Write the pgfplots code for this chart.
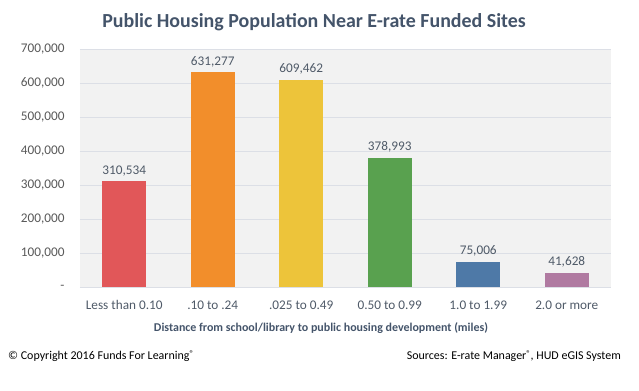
\documentclass[border=0pt]{standalone}
\usepackage{fontspec}
\setmainfont{Carlito}
\usepackage{pgfplots}
\pgfplotsset{compat=1.18}
\definecolor{bgc}{HTML}{F2F2F2}
\definecolor{gridc}{HTML}{DCDFE6}
\definecolor{titlec}{HTML}{44546A}
\definecolor{txtc}{HTML}{4F5A68}
\definecolor{tickc}{HTML}{595959}
\definecolor{c1}{HTML}{E15759}
\definecolor{c2}{HTML}{F28E2B}
\definecolor{c3}{HTML}{EDC43A}
\definecolor{c4}{HTML}{59A14F}
\definecolor{c5}{HTML}{4E79A7}
\definecolor{c6}{HTML}{B07AA1}
\newcommand{\reg}{\raisebox{3.5bp}{\fontsize{8.5}{9}\selectfont ®}}
\begin{document}
\begin{tikzpicture}
\begin{axis}[name=ax, scale only axis,
  width=531bp, height=238bp,
  ymin=0, ymax=700000, xmin=-0.5, xmax=5.5,
  ybar, bar width=44bp, bar shift=0pt,
  axis background/.style={fill=bgc},
  axis line style={draw=none},
  tick style={draw=none},
  ymajorgrids, grid style={gridc, line width=0.8bp},
  scaled y ticks=false,
  ytick={0,100000,200000,300000,400000,500000,600000,700000},
  yticklabels={{-},{100,000},{200,000},{300,000},{400,000},{500,000},{600,000},{700,000}},
  yticklabel style={font=\fontsize{13.3}{15}\selectfont, text=tickc, xshift=-12bp},
  xtick={0,1,2,3,4,5},
  xticklabels={Less than 0.10,.10 to .24,.025 to 0.49,0.50 to 0.99,1.0 to 1.99,2.0 or more},
  xticklabel style={font=\fontsize{13.3}{15}\selectfont, text=txtc, yshift=-6bp},
  /pgf/number format/assume math mode=true,
  /pgf/number format/1000 sep={,},
  /pgf/number format/fixed,
  nodes near coords,
  nodes near coords style={font=\fontsize{13.3}{15}\selectfont, text=txtc, yshift=2bp},
  clip=false,
]
\addplot[fill=c1, draw=none] coordinates {(0,310534)};
\addplot[fill=c2, draw=none] coordinates {(1,631277)};
\addplot[fill=c3, draw=none] coordinates {(2,609462)};
\addplot[fill=c4, draw=none] coordinates {(3,378993)};
\addplot[fill=c5, draw=none] coordinates {(4,75006)};
\addplot[fill=c6, draw=none] coordinates {(5,41628)};
\end{axis}
\begin{scope}[shift={(ax.south west)}, x=1bp, y=1bp, shift={(-80,-103)}]
\pgfresetboundingbox
\useasboundingbox (0,0) rectangle (639,390);
\node[font=\bfseries\fontsize{20}{24}\selectfont, text=titlec] at (314,368) {Public Housing Population Near E-rate Funded Sites};
\node[font=\bfseries\fontsize{12}{14}\selectfont, text=titlec] at (321,62) {Distance from school/library to public housing development (miles)};
\node[font=\fontsize{12}{14}\selectfont, text=black, anchor=west, inner sep=0] at (8,34) {© Copyright 2016 Funds For Learning\reg};
\node[font=\fontsize{12}{14}\selectfont, text=black, anchor=east, inner sep=0] at (621,34) {Sources: E-rate Manager\reg, HUD eGIS System};
\end{scope}
\end{tikzpicture}
\end{document}
